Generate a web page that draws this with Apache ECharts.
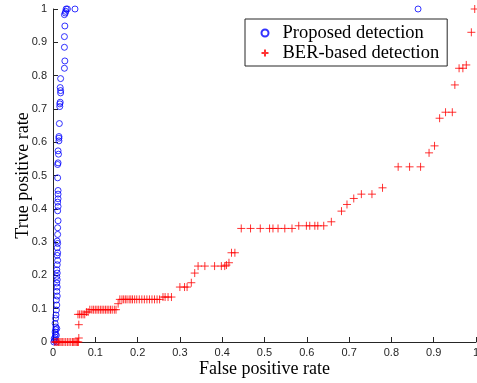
<!DOCTYPE html>
<html>
<head>
<meta charset="utf-8">
<script src="https://cdn.jsdelivr.net/npm/echarts@6/dist/echarts.min.js"></script>
<style>
  html, body { margin: 0; padding: 0; background: #fff; }
  #roc { width: 477px; height: 383px; }
</style>
</head>
<body>
<div id="roc"></div>
<script>
var xTicks = [0, 0.1, 0.2, 0.3, 0.4, 0.5, 0.6, 0.7, 0.8, 0.9, 1];

// Proposed detection (blue circles)
var proposedFpr = [0.002, 0.008, 0.004, 0.003, 0.005, 0.008, 0.006, 0.005, 0.006, 0.009, 0.007, 0.005, 0.006, 0.007,
	0.008, 0.009, 0.008, 0.010, 0.009, 0.010, 0.009, 0.010, 0.009, 0.010, 0.009, 0.010, 0.011, 0.010, 0.011, 0.010,
	0.011, 0.010, 0.011, 0.011, 0.012, 0.011, 0.012, 0.011, 0.012, 0.012, 0.012, 0.011,
	0.011, 0.012, 0.013, 0.012, 0.014, 0.014, 0.014, 0.015, 0.016, 0.016, 0.017, 0.018, 0.018, 0.017, 0.018,
	0.027, 0.028, 0.027, 0.027, 0.028, 0.027, 0.029, 0.030, 0.031, 0.034, 0.052, 0.863];
var proposedTpr = [0.000, 0.000, 0.005, 0.010, 0.015, 0.020, 0.023, 0.030, 0.037, 0.040, 0.045, 0.056, 0.071, 0.081,
	0.096, 0.111, 0.126, 0.138, 0.152, 0.165, 0.177, 0.187, 0.197, 0.207, 0.217, 0.232, 0.245, 0.260, 0.268, 0.283,
	0.296, 0.303, 0.323, 0.343, 0.364, 0.394, 0.407, 0.420, 0.430, 0.444, 0.455, 0.493,
	0.533, 0.538, 0.564, 0.574, 0.604, 0.612, 0.617, 0.656, 0.707, 0.715, 0.720, 0.748, 0.755, 0.764, 0.791,
	0.822, 0.844, 0.885, 0.917, 0.949, 0.983, 0.988, 0.993, 1.000, 1.000, 1.000, 1.000];

// BER-based detection (red crosses)
var berFpr = [0.004, 0.007, 0.010, 0.013, 0.016, 0.019, 0.022, 0.026, 0.030, 0.034, 0.038, 0.042, 0.046, 0.049,
	0.052, 0.055, 0.058, 0.060, 0.061, 0.061,
	0.059, 0.063, 0.067, 0.071, 0.075, 0.079, 0.083,
	0.087, 0.092, 0.096, 0.100, 0.104, 0.108, 0.112, 0.116, 0.120, 0.124, 0.128, 0.132, 0.136, 0.140, 0.145, 0.149,
	0.154,
	0.158, 0.163, 0.167, 0.171, 0.175, 0.180, 0.184, 0.188, 0.193, 0.198, 0.204, 0.210, 0.216, 0.222, 0.228, 0.234,
	0.240, 0.246, 0.252, 0.260, 0.265, 0.272, 0.280,
	0.300, 0.311, 0.317, 0.327, 0.335, 0.343, 0.359, 0.382, 0.398, 0.406, 0.410, 0.416, 0.422, 0.430,
	0.445, 0.467, 0.490, 0.512, 0.520, 0.532, 0.548, 0.565,
	0.581, 0.599, 0.607, 0.619, 0.626, 0.640,
	0.658, 0.682, 0.695, 0.711, 0.729, 0.754, 0.779, 0.816, 0.843, 0.869, 0.889, 0.902, 0.914, 0.928, 0.944,
	0.950, 0.960, 0.969, 0.977, 0.989, 0.997];
var berTpr = [0.000, 0.000, 0.000, 0.000, 0.000, 0.000, 0.000, 0.000, 0.000, 0.000, 0.000, 0.000, 0.000, 0.000,
	0.000, 0.000, 0.000, 0.000, 0.012, 0.052,
	0.083, 0.083, 0.083, 0.083, 0.083, 0.090, 0.090,
	0.097, 0.097, 0.097, 0.097, 0.097, 0.097, 0.097, 0.097, 0.097, 0.097, 0.097, 0.097, 0.097, 0.097, 0.097, 0.097,
	0.115,
	0.128, 0.128, 0.128, 0.128, 0.128, 0.128, 0.128, 0.128, 0.128, 0.128, 0.128, 0.128, 0.128, 0.128, 0.128, 0.128,
	0.128, 0.128, 0.128, 0.135, 0.135, 0.135, 0.135,
	0.165, 0.165, 0.165, 0.178, 0.207, 0.228, 0.228, 0.228, 0.228, 0.228, 0.231, 0.238, 0.268, 0.268,
	0.341, 0.341, 0.341, 0.341, 0.341, 0.341, 0.341, 0.341,
	0.349, 0.349, 0.349, 0.349, 0.349, 0.349,
	0.361, 0.393, 0.413, 0.431, 0.444, 0.444, 0.463, 0.526, 0.526, 0.526, 0.568, 0.589, 0.672, 0.690, 0.690,
	0.772, 0.822, 0.822, 0.832, 0.930, 1.000];

function zip(xs, ys) {
	var out = [];
	for (var i = 0; i < xs.length; i++) {
		out.push([xs[i], ys[i]]);
	}
	return out;
}

var axisColor = '#262626';
var plus = 'path://M0,5L10,5M5,0L5,10';

var option = {
	animation: false,
	grid: { left: 53, right: 1, top: 9, bottom: 41, outerBoundsMode: 'none', containLabel: false },
	legend: {
		orient: 'vertical',
		left: 245,
		top: 19,
		padding: [4, 8, 3, 14],
		itemGap: 0,
		itemWidth: 7,
		itemHeight: 7,
		backgroundColor: '#fff',
		borderColor: axisColor,
		borderWidth: 1,
		textStyle: {
			fontFamily: 'Liberation Serif',
			fontSize: 18.5,
			lineHeight: 20,
			color: '#000',
			padding: [0, 0, 0, 9]
		},
		data: ['Proposed detection', 'BER-based detection']
	},
	xAxis: {
		type: 'value',
		min: 0,
		max: 1,
		interval: 0.1,
		name: 'False positive rate',
		nameLocation: 'middle',
		nameGap: 18,
		nameMoveOverlap: false,
		nameTextStyle: { fontFamily: 'Liberation Serif', fontSize: 18, color: '#000' },
		axisLine: { lineStyle: { color: axisColor, width: 1 } },
		axisTick: { inside: true, length: 5, lineStyle: { color: axisColor } },
		axisLabel: { fontFamily: 'Liberation Sans', fontSize: 11, color: axisColor, margin: 5 },
		splitLine: { show: false }
	},
	yAxis: {
		type: 'value',
		min: 0,
		max: 1,
		interval: 0.1,
		name: 'True positive rate',
		nameLocation: 'middle',
		nameGap: 21,
		nameMoveOverlap: false,
		nameTextStyle: { fontFamily: 'Liberation Serif', fontSize: 18, color: '#000' },
		axisLine: { lineStyle: { color: axisColor, width: 1 } },
		axisTick: { inside: true, length: 5, lineStyle: { color: axisColor } },
		axisLabel: { fontFamily: 'Liberation Sans', fontSize: 11, color: axisColor, margin: 6 },
		splitLine: { show: false }
	},
	series: [
		{
			name: 'Proposed detection',
			type: 'scatter',
			clip: false,
			symbol: 'circle',
			symbolSize: 6,
			itemStyle: { color: 'none', borderColor: '#0000ff', borderWidth: 1 },
			data: zip(proposedFpr, proposedTpr)
		},
		{
			name: 'BER-based detection',
			type: 'scatter',
			clip: false,
			symbol: plus,
			symbolSize: 8,
			itemStyle: { color: 'none', borderColor: '#ff0000', borderWidth: 1 },
			data: zip(berFpr, berTpr)
		}
	]
};

var chart = echarts.init(document.getElementById('roc'));
chart.setOption(option);
</script>
</body>
</html>
